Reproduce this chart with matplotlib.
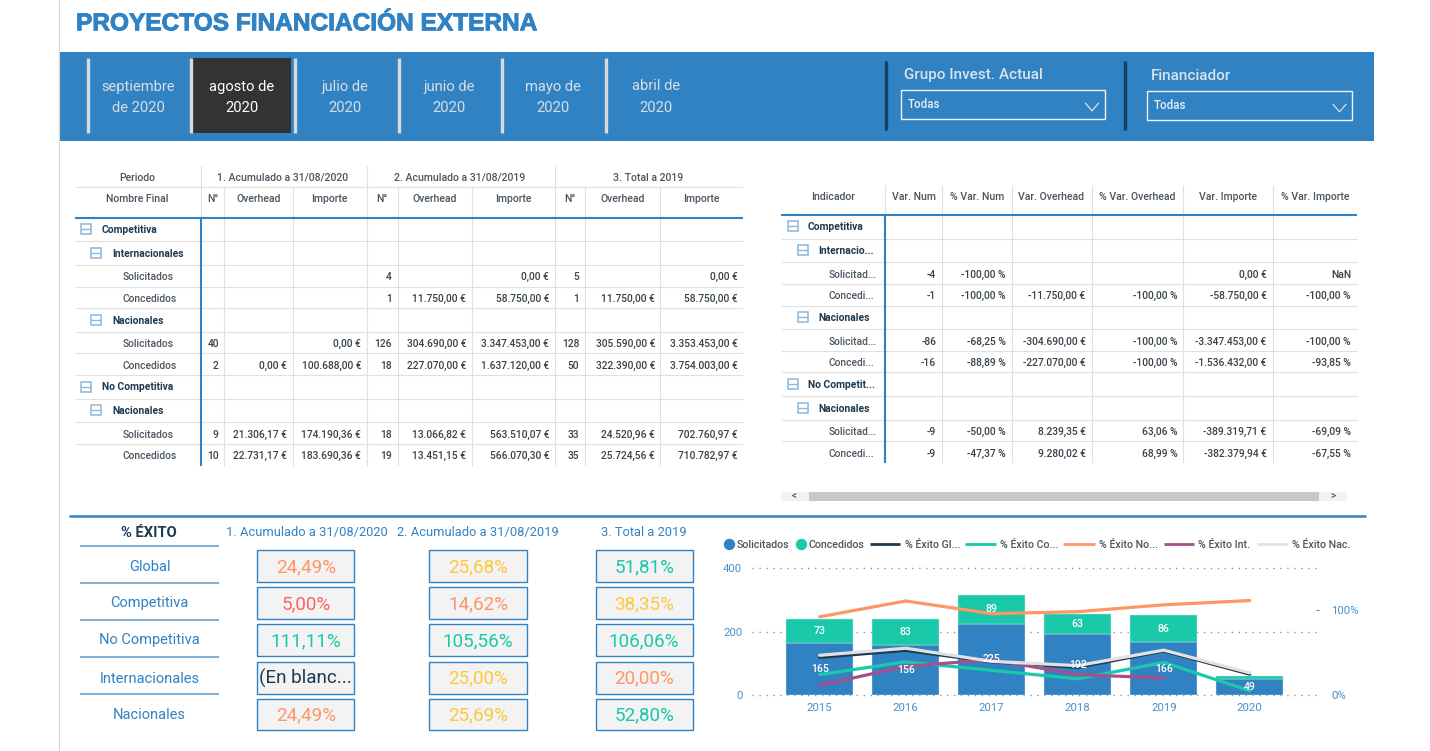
from matplotlib import pyplot as plt
from matplotlib.patches import Rectangle
import matplotlib.patheffects as pe
import numpy as np

plt.rcParams['font.family'] = ['Roboto', 'DejaVu Sans']

BLUE = '#3182c2'
TEAL = '#1ac9a9'
NAVY = '#1c3a52'
ORANGE = '#fe9666'
YELLOW = '#fdc83c'
RED = '#fd625e'
PURPLE = '#a4508c'
LIGHT = '#e0e0e0'
TEXT = '#4a5660'
NUM = '#37424b'
AXIS_BLUE = '#4a90c8'

fig = plt.figure(figsize=(14.3, 7.51), dpi=100, facecolor='white')

# full page axes in pixels, for all the dashboard furniture
page = fig.add_axes([0, 0, 1, 1])
page.set_xlim(0, 1430)
page.set_ylim(751, 0)
page.axis('off')


def box(x0, y0, x1, y1, fill='none', edge='none', lw=0, z=1):
    page.add_patch(Rectangle((x0, y0), x1 - x0, y1 - y0, facecolor=fill, edgecolor=edge, linewidth=lw, zorder=z))


def txt(x, y, s, size=7.4, color=TEXT, ha='center', weight='medium', family=None):
    kw = {}
    if family:
        kw['family'] = family
    return page.text(x, y + 0.8, s, fontsize=size, color=color, ha=ha, va='center', fontweight=weight, zorder=5, **kw)


def hline(y, x0, x1, color=LIGHT, lw=0.8, z=2):
    page.plot([x0, x1], [y, y], color=color, linewidth=lw, solid_capstyle='butt', zorder=z)


def vline(x, y0, y1, color=LIGHT, lw=0.8, z=2):
    page.plot([x, x], [y0, y1], color=color, linewidth=lw, solid_capstyle='butt', zorder=z)


def minus_icon(x, y):
    box(x, y - 5, x + 10, y + 5, edge='#8db8dd', lw=1.1, z=4)
    hline(y, x, x + 10, color='#8db8dd', lw=1.0, z=4)


vline(58.5, 0, 751, color='#d8d8d8')

# title
t = txt(76, 23, 'PROYECTOS FINANCIACIÓN EXTERNA', size=17.6, color=BLUE, ha='left', weight='bold', family='Liberation Sans')
t.set_path_effects([pe.withStroke(linewidth=0.7, foreground=BLUE)])

# top band with the month slicer
box(60, 52, 1374, 141, fill=BLUE)
months = [('septiembre', 138), ('agosto de', 241.7), ('julio de', 345), ('junio de', 449), ('mayo de', 552.8), ('abril de', 656.4)]
box(192, 58, 291, 133, fill='#333333', z=2)
for x in [87.5, 190.5, 294.5, 398.5, 501.5, 605.5]:
    vline(x, 58, 133, color='#d9d9d9', lw=2.4, z=3)
for i, (m, x) in enumerate(months):
    col = 'white' if i == 1 else '#d5dfe8'
    txt(x, 85.7, m, size=10.6, color=col, weight='normal')
    txt(x, 107.3, 'de 2020' if i == 0 else '2020', size=10.6, color=col, weight='normal')

filters = [(886, 904.4, 74.3, 'Grupo Invest. Actual', 901, 1104.5, 90.3, 118.7),
           (1124.7, 1151, 75.3, 'Financiador', 1147, 1352, 91.3, 119.7)]
for dx, lx, ly, name, x0, x1, y0, y1 in filters:
    vline(dx, 61, 130, color='#173f5f', lw=2.4, z=3)
    txt(lx, ly, name, size=11, color='#d8e3ec', ha='left')
    box(x0, y0, x1, y1, edge='#f0f0f0', lw=1.0, z=3)
    txt(x0 + 6.5, (y0 + y1) / 2 - 0.5, 'Todas', size=8.3, color='#e8eef3', ha='left')
    page.plot([x1 - 19, x1 - 12.5, x1 - 6], [y0 + 13, y0 + 20.5, y0 + 13], color='#e8eef3', linewidth=0.8, zorder=4)

# left matrix
left_seps = [200.6, 224.3, 292.6, 366.7, 397.5, 471.6, 554.6, 584.6, 660.4, 743]
left_lines = [187.3, 241.3, 265.3, 287.3, 308.3, 332.3, 353.3, 375.3, 399.3, 422.3, 444.3]
left_rows = [
    (229.3, 0, 'Competitiva', ['', '', '', '', '', '', '', '', '']),
    (253.3, 1, 'Internacionales', ['', '', '', '', '', '', '', '', '']),
    (276.3, 2, 'Solicitados', ['', '', '', '4', '', '0,00 €', '5', '', '0,00 €']),
    (298.3, 2, 'Concedidos', ['', '', '', '1', '11.750,00 €', '58.750,00 €', '1', '11.750,00 €', '58.750,00 €']),
    (320.3, 1, 'Nacionales', ['', '', '', '', '', '', '', '', '']),
    (343.3, 2, 'Solicitados', ['40', '', '0,00 €', '126', '304.690,00 €', '3.347.453,00 €', '128', '305.590,00 €', '3.353.453,00 €']),
    (365.3, 2, 'Concedidos', ['2', '0,00 €', '100.688,00 €', '18', '227.070,00 €', '1.637.120,00 €', '50', '322.390,00 €', '3.754.003,00 €']),
    (386.7, 0, 'No Competitiva', ['', '', '', '', '', '', '', '', '']),
    (410.3, 1, 'Nacionales', ['', '', '', '', '', '', '', '', '']),
    (434.3, 2, 'Solicitados', ['9', '21.306,17 €', '174.190,36 €', '18', '13.066,82 €', '563.510,07 €', '33', '24.520,96 €', '702.760,97 €']),
    (455.3, 2, 'Concedidos', ['10', '22.731,17 €', '183.690,36 €', '19', '13.451,15 €', '566.070,30 €', '35', '25.724,56 €', '710.782,97 €']),
]

for y in left_lines:
    hline(y, 75, 743)
for x in [200.6, 366.7, 554.6]:
    vline(x, 166, 187.3)
for x in left_seps[:-1]:
    vline(x, 187.3, 465.5)
hline(217.7, 75, 743, color=BLUE, lw=1.5, z=3)
vline(200.6, 217.7, 465.5, color=BLUE, lw=1.5, z=3)

txt(137, 177, 'Periodo', size=7.6)
txt(137, 198.5, 'Nombre Final', size=7.6)
txt(283, 177, '1. Acumulado a 31/08/2020', size=7.6)
txt(460, 177, '2. Acumulado a 31/08/2019', size=7.6)
txt(648, 177, '3. Total a 2019', size=7.6)
for j, name in enumerate(['N°', 'Overhead', 'Importe'] * 3):
    txt((left_seps[j] + left_seps[j + 1]) / 2, 198.5, name, size=7.6)

for y, level, name, vals in left_rows:
    if level < 2:
        minus_icon(81.4 + level * 10, y)
        txt(102 + level * 10.7, y, name, color=NAVY, ha='left', weight='bold')
    else:
        txt(122.5, y, name, ha='left')
    for j, v in enumerate(vals):
        if v:
            txt(left_seps[j + 1] - 5.5, y, v, color=NUM, ha='right')

# right matrix
right_seps = [884.8, 942.2, 1011.5, 1091.5, 1183.3, 1272.5, 1357]
right_lines = [239.3, 262.3, 284.3, 306.3, 329.3, 351.3, 372.3, 396.3, 420.3, 441.3]
right_rows = [
    (226.3, 0, 'Competitiva', ['', '', '', '', '', '']),
    (250.3, 1, 'Internacio...', ['', '', '', '', '', '']),
    (274.3, 2, 'Solicitad...', ['-4', '-100,00 %', '', '', '0,00 €', 'NaN']),
    (295.3, 2, 'Concedi...', ['-1', '-100,00 %', '-11.750,00 €', '-100,00 %', '-58.750,00 €', '-100,00 %']),
    (317.3, 1, 'Nacionales', ['', '', '', '', '', '']),
    (341.3, 2, 'Solicitad...', ['-86', '-68,25 %', '-304.690,00 €', '-100,00 %', '-3.347.453,00 €', '-100,00 %']),
    (362.3, 2, 'Concedi...', ['-16', '-88,89 %', '-227.070,00 €', '-100,00 %', '-1.536.432,00 €', '-93,85 %']),
    (384.3, 0, 'No Competit...', ['', '', '', '', '', '']),
    (408.3, 1, 'Nacionales', ['', '', '', '', '', '']),
    (431.3, 2, 'Solicitad...', ['-9', '-50,00 %', '8.239,35 €', '63,06 %', '-389.319,71 €', '-69,09 %']),
    (453.3, 2, 'Concedi...', ['-9', '-47,37 %', '9.280,02 €', '68,99 %', '-382.379,94 €', '-67,55 %']),
]

for y in right_lines:
    hline(y, 781, 1357)
for x in right_seps[:-1]:
    vline(x, 185, 462.7)
hline(214.7, 781, 1357, color=BLUE, lw=1.5, z=3)
vline(884.8, 214.7, 462.7, color=BLUE, lw=1.5, z=3)

txt(833, 196.3, 'Indicador', size=7.6)
for j, name in enumerate(['Var. Num', '% Var. Num', 'Var. Overhead', '% Var. Overhead', 'Var. Importe', '% Var. Importe']):
    txt((right_seps[j] + right_seps[j + 1]) / 2, 196.3, name, size=7.6)

for y, level, name, vals in right_rows:
    if level < 2:
        minus_icon(787.5 + level * 10.3, y)
        txt(808 + level * 10.6, y, name, color=NAVY, ha='left', weight='bold')
    else:
        txt(828.5, y, name, ha='left')
    for j, v in enumerate(vals):
        if v:
            txt(right_seps[j + 1] - 6, y, v, color=NUM, ha='right')

# scroll bar under the right matrix
box(781, 492, 1347, 500.7, fill='#f2f2f2')
box(809, 492, 1319, 500.7, fill='#c8c8c8', z=2)
txt(794, 495, '<', size=7, color='#555555')
txt(1333, 495, '>', size=7, color='#555555')

# % exito block
hline(515.7, 69, 1366, color=BLUE, lw=1.8)
txt(149, 532, '% ÉXITO', size=10.6, color=NAVY, weight='bold')
kpi_x = [(257.3, 354.4), (429.4, 526.8), (595.6, 692.7)]
kpi_y = [(550.3, 582.3), (587.3, 619.3), (624.3, 656.3), (661.7, 693.7), (698.7, 730.3)]
kpi_head = [(306.7, '1. Acumulado a 31/08/2020'), (478.3, '2. Acumulado a 31/08/2019'), (643.8, '3. Total a 2019')]
kpi_rows = [
    ('Global', 566, [('24,49%', ORANGE), ('25,68%', YELLOW), ('51,81%', TEAL)]),
    ('Competitiva', 602.3, [('5,00%', RED), ('14,62%', ORANGE), ('38,35%', YELLOW)]),
    ('No Competitiva', 639.3, [('111,11%', TEAL), ('105,56%', TEAL), ('106,06%', TEAL)]),
    ('Internacionales', 678.3, [('(En blanc...', NAVY), ('25,00%', YELLOW), ('20,00%', ORANGE)]),
    ('Nacionales', 714, [('24,49%', ORANGE), ('25,69%', YELLOW), ('52,80%', TEAL)]),
]
for x, s in kpi_head:
    txt(x, 531.7, s, size=9.3, color=BLUE, weight='normal')
for y in [545.7, 582.7, 619.7, 656.7, 693.7]:
    hline(y, 79.5, 218.8, color='#5a9bd0', lw=1.1)
for i, (name, y, cells) in enumerate(kpi_rows):
    txt(149.5, y, name, size=10.5, color=BLUE, weight='normal')
    for j, (val, col) in enumerate(cells):
        x0, x1 = kpi_x[j]
        y0, y1 = kpi_y[i]
        box(x0, y0, x1, y1, fill='#f3f3f3', edge=BLUE, lw=1.0, z=2)
        txt((x0 + x1) / 2, (y0 + y1) / 2, val, size=13.6, color=col, weight='normal')

# combo chart
years = [2015, 2016, 2017, 2018, 2019, 2020]
solicitados = [165, 156, 225, 192, 166, 49]
concedidos = [73, 83, 89, 63, 86, 12]
exito = {
    '% Éxito Gl...': ([44.3, 52.5, 39, 32.5, 51.81, 24.49], NAVY),
    '% Éxito Co...': ([24, 39, 29, 19, 38.35, 5], TEAL),
    '% Éxito No...': ([92, 110.6, 95.7, 98, 106.06, 111.11], ORANGE),
    '% Éxito Int.': ([11.4, 33.7, 41.6, 24, 20, np.nan], PURPLE),
    '% Éxito Nac.': ([46.7, 55, 39.6, 34.5, 52.8, 26], '#e2e2e2'),
}

ax = fig.add_axes([752 / 1430, 1 - 695 / 751, (1316 - 752) / 1430, (695 - 568) / 751])
ax.patch.set_alpha(0)
pos = np.arange(len(years))
ax.bar(pos, solicitados, width=0.78, color=BLUE, edgecolor='#d5e6f2', linewidth=0.3, zorder=2)
ax.bar(pos, concedidos, width=0.78, bottom=solicitados, color=TEAL, edgecolor='#cdeee7', linewidth=0.3, zorder=2)
ax.set_xlim(-0.787, 5.77)
ax.set_ylim(0, 400)
ax.set_yticks([0, 200, 400])
ax.set_xticks(pos)
ax.set_xticklabels(years)
ax.tick_params(axis='both', length=0, labelsize=8.2, labelcolor=AXIS_BLUE, pad=7)
ax.tick_params(axis='x', pad=6)
ax.grid(axis='y', color='#7f99ad', linestyle=(0, (1, 4)), linewidth=1.0, zorder=0, clip_on=False)
ax.set_axisbelow(True)
for s in ax.spines.values():
    s.set_visible(False)

ax2 = ax.twinx()
ax2.set_ylim(0, 149.4)
ax2.set_yticks([0, 100])
ax2.set_yticklabels(['0%', '100%'])
ax2.tick_params(axis='y', length=2, width=0.8, color=AXIS_BLUE, labelsize=8.2, labelcolor=AXIS_BLUE, pad=9)
ax2.yaxis.get_major_ticks()[0].tick2line.set_visible(False)
for s in ax2.spines.values():
    s.set_visible(False)
for name, (vals, col) in exito.items():
    ax2.plot(pos, vals, color=col, linewidth=2.3, solid_capstyle='round', label=name, zorder=3)
for i in pos:
    ax2.text(i, solicitados[i] / 2 * 149.4 / 400, str(solicitados[i]), color='white', fontsize=7.6, fontweight='medium', ha='center', va='center', zorder=6)
    if concedidos[i] > 20:
        ax2.text(i, (solicitados[i] + concedidos[i] / 2) * 149.4 / 400, str(concedidos[i]), color='white', fontsize=7.6, fontweight='medium', ha='center', va='center', zorder=6)

# legend keys, same spots as the Power BI legend row
for x, name, col in [(728.6, 'Solicitados', BLUE), (800.6, 'Concedidos', TEAL)]:
    page.plot([x], [544.3], marker='o', markersize=7.2, color=col, zorder=4)
    txt(x + 7.8, 544.3, name, size=7.7, color=TEXT, ha='left')
legend_x = [(870.4, 900.3, 904.7), (964.5, 995.7, 1000.5), (1063.4, 1094.6, 1099), (1164, 1194.4, 1198.3), (1256.8, 1287.6, 1292)]
for (name, (vals, col)), (x0, x1, tx) in zip(exito.items(), legend_x):
    hline(544.3, x0, x1, color=col, lw=2.0, z=4)
    txt(tx, 544.3, name, size=7.7, color=TEXT, ha='left')

plt.savefig('out.png', dpi=100)
